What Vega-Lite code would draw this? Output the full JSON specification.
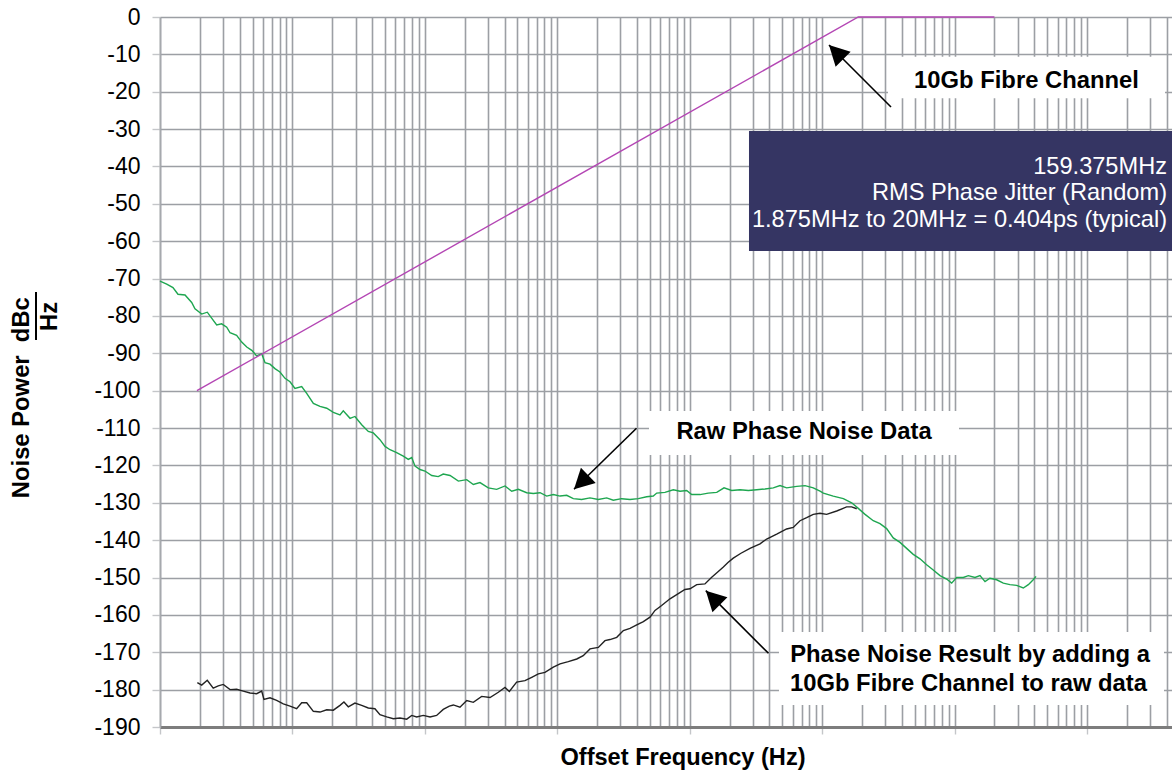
{
  "$schema": "https://vega.github.io/schema/vega-lite/v6.json",
  "width": 1012,
  "height": 710,
  "autosize": "none",
  "padding": {"left": 160, "top": 17, "right": 0, "bottom": 44},
  "background": "#ffffff",
  "config": {
    "view": {"stroke": null},
    "font": "Liberation Sans",
    "axis": {"labelFont": "Liberation Sans", "titleFont": "Liberation Sans"}
  },
  "datasets": {
    "curves": [
      {"series": "raw", "freq": 10, "dB": -70.7},
      {"series": "raw", "freq": 11.24, "dB": -71.5},
      {"series": "raw", "freq": 12.53, "dB": -72.4},
      {"series": "raw", "freq": 13.67, "dB": -74.2},
      {"series": "raw", "freq": 15.45, "dB": -74.4},
      {"series": "raw", "freq": 17.35, "dB": -76.4},
      {"series": "raw", "freq": 18.37, "dB": -78.1},
      {"series": "raw", "freq": 20.65, "dB": -79.5},
      {"series": "raw", "freq": 22.75, "dB": -79.0},
      {"series": "raw", "freq": 24.55, "dB": -80.6},
      {"series": "raw", "freq": 26.8, "dB": -82.4},
      {"series": "raw", "freq": 29.2, "dB": -82.1},
      {"series": "raw", "freq": 31.9, "dB": -83.0},
      {"series": "raw", "freq": 33.8, "dB": -84.5},
      {"series": "raw", "freq": 37.9, "dB": -85.2},
      {"series": "raw", "freq": 41.4, "dB": -87.0},
      {"series": "raw", "freq": 45.2, "dB": -88.3},
      {"series": "raw", "freq": 49.3, "dB": -89.2},
      {"series": "raw", "freq": 53.7, "dB": -90.7},
      {"series": "raw", "freq": 58.6, "dB": -90.1},
      {"series": "raw", "freq": 62.1, "dB": -92.5},
      {"series": "raw", "freq": 67.7, "dB": -92.9},
      {"series": "raw", "freq": 73.8, "dB": -94.1},
      {"series": "raw", "freq": 80.5, "dB": -95.0},
      {"series": "raw", "freq": 87.9, "dB": -96.7},
      {"series": "raw", "freq": 95.9, "dB": -97.6},
      {"series": "raw", "freq": 104.5, "dB": -99.4},
      {"series": "raw", "freq": 117.5, "dB": -98.9},
      {"series": "raw", "freq": 128.2, "dB": -100.7},
      {"series": "raw", "freq": 143.9, "dB": -103.4},
      {"series": "raw", "freq": 161.5, "dB": -104.2},
      {"series": "raw", "freq": 181.6, "dB": -104.7},
      {"series": "raw", "freq": 203.7, "dB": -105.8},
      {"series": "raw", "freq": 228.6, "dB": -106.5},
      {"series": "raw", "freq": 242.1, "dB": -105.4},
      {"series": "raw", "freq": 272.3, "dB": -107.4},
      {"series": "raw", "freq": 296.5, "dB": -106.9},
      {"series": "raw", "freq": 333.4, "dB": -109.1},
      {"series": "raw", "freq": 374.1, "dB": -110.9},
      {"series": "raw", "freq": 408.3, "dB": -111.3},
      {"series": "raw", "freq": 458.1, "dB": -113.1},
      {"series": "raw", "freq": 500, "dB": -114.9},
      {"series": "raw", "freq": 545.8, "dB": -115.8},
      {"series": "raw", "freq": 612.4, "dB": -116.6},
      {"series": "raw", "freq": 687.1, "dB": -117.5},
      {"series": "raw", "freq": 749.9, "dB": -118.4},
      {"series": "raw", "freq": 796, "dB": -117.9},
      {"series": "raw", "freq": 843, "dB": -120.2},
      {"series": "raw", "freq": 919, "dB": -121.1},
      {"series": "raw", "freq": 1002, "dB": -121.5},
      {"series": "raw", "freq": 1127, "dB": -122.7},
      {"series": "raw", "freq": 1262, "dB": -123.0},
      {"series": "raw", "freq": 1377, "dB": -122.3},
      {"series": "raw", "freq": 1549, "dB": -122.7},
      {"series": "raw", "freq": 1790, "dB": -124.2},
      {"series": "raw", "freq": 2071, "dB": -123.8},
      {"series": "raw", "freq": 2323, "dB": -125.1},
      {"series": "raw", "freq": 2608, "dB": -124.6},
      {"series": "raw", "freq": 3013, "dB": -126.0},
      {"series": "raw", "freq": 3486, "dB": -126.4},
      {"series": "raw", "freq": 4027, "dB": -125.5},
      {"series": "raw", "freq": 4529, "dB": -126.9},
      {"series": "raw", "freq": 5082, "dB": -126.4},
      {"series": "raw", "freq": 5875, "dB": -127.3},
      {"series": "raw", "freq": 6592, "dB": -127.5},
      {"series": "raw", "freq": 7413, "dB": -127.3},
      {"series": "raw", "freq": 8318, "dB": -128.2},
      {"series": "raw", "freq": 9333, "dB": -127.8},
      {"series": "raw", "freq": 10490, "dB": -128.2},
      {"series": "raw", "freq": 11780, "dB": -128.0},
      {"series": "raw", "freq": 13210, "dB": -128.9},
      {"series": "raw", "freq": 15280, "dB": -129.1},
      {"series": "raw", "freq": 17660, "dB": -128.7},
      {"series": "raw", "freq": 20420, "dB": -129.1},
      {"series": "raw", "freq": 23600, "dB": -128.7},
      {"series": "raw", "freq": 26490, "dB": -129.3},
      {"series": "raw", "freq": 30620, "dB": -128.9},
      {"series": "raw", "freq": 35400, "dB": -129.1},
      {"series": "raw", "freq": 40930, "dB": -128.9},
      {"series": "raw", "freq": 47320, "dB": -128.4},
      {"series": "raw", "freq": 53090, "dB": -128.2},
      {"series": "raw", "freq": 56360, "dB": -127.4},
      {"series": "raw", "freq": 65010, "dB": -127.2},
      {"series": "raw", "freq": 75160, "dB": -126.5},
      {"series": "raw", "freq": 84530, "dB": -126.9},
      {"series": "raw", "freq": 94850, "dB": -126.7},
      {"series": "raw", "freq": 103500, "dB": -127.8},
      {"series": "raw", "freq": 119700, "dB": -127.8},
      {"series": "raw", "freq": 138000, "dB": -127.4},
      {"series": "raw", "freq": 160000, "dB": -127.2},
      {"series": "raw", "freq": 181600, "dB": -126.0},
      {"series": "raw", "freq": 207500, "dB": -126.7},
      {"series": "raw", "freq": 239900, "dB": -126.5},
      {"series": "raw", "freq": 277300, "dB": -126.7},
      {"series": "raw", "freq": 320600, "dB": -126.5},
      {"series": "raw", "freq": 370700, "dB": -126.3},
      {"series": "raw", "freq": 427600, "dB": -126.0},
      {"series": "raw", "freq": 480800, "dB": -125.4},
      {"series": "raw", "freq": 539500, "dB": -126.0},
      {"series": "raw", "freq": 642700, "dB": -125.6},
      {"series": "raw", "freq": 743000, "dB": -125.4},
      {"series": "raw", "freq": 857000, "dB": -126.0},
      {"series": "raw", "freq": 963800, "dB": -126.9},
      {"series": "raw", "freq": 1021000, "dB": -127.4},
      {"series": "raw", "freq": 1213000, "dB": -128.2},
      {"series": "raw", "freq": 1445000, "dB": -128.9},
      {"series": "raw", "freq": 1671000, "dB": -130.0},
      {"series": "raw", "freq": 1875000, "dB": -131.5},
      {"series": "raw", "freq": 2109000, "dB": -133.1},
      {"series": "raw", "freq": 2432000, "dB": -134.8},
      {"series": "raw", "freq": 2735000, "dB": -135.6},
      {"series": "raw", "freq": 3069000, "dB": -136.9},
      {"series": "raw", "freq": 3443000, "dB": -139.4},
      {"series": "raw", "freq": 3873000, "dB": -140.6},
      {"series": "raw", "freq": 4345000, "dB": -142.2},
      {"series": "raw", "freq": 4875000, "dB": -143.8},
      {"series": "raw", "freq": 5483000, "dB": -145.0},
      {"series": "raw", "freq": 6152000, "dB": -146.6},
      {"series": "raw", "freq": 6902000, "dB": -148.0},
      {"series": "raw", "freq": 7762000, "dB": -149.5},
      {"series": "raw", "freq": 8710000, "dB": -150.4},
      {"series": "raw", "freq": 9506000, "dB": -151.5},
      {"series": "raw", "freq": 10370000, "dB": -150.0},
      {"series": "raw", "freq": 11640000, "dB": -150.0},
      {"series": "raw", "freq": 12700000, "dB": -149.5},
      {"series": "raw", "freq": 14260000, "dB": -150.0},
      {"series": "raw", "freq": 15560000, "dB": -149.5},
      {"series": "raw", "freq": 16980000, "dB": -151.1},
      {"series": "raw", "freq": 18490000, "dB": -150.2},
      {"series": "raw", "freq": 20800000, "dB": -150.6},
      {"series": "raw", "freq": 23330000, "dB": -151.5},
      {"series": "raw", "freq": 26180000, "dB": -151.9},
      {"series": "raw", "freq": 29440000, "dB": -152.1},
      {"series": "raw", "freq": 33030000, "dB": -152.8},
      {"series": "raw", "freq": 36060000, "dB": -151.9},
      {"series": "raw", "freq": 39260000, "dB": -150.6},
      {"series": "raw", "freq": 41210000, "dB": -149.7},
      {"series": "filtered", "freq": 19.14, "dB": -178.1},
      {"series": "filtered", "freq": 20.65, "dB": -178.8},
      {"series": "filtered", "freq": 22.75, "dB": -177.5},
      {"series": "filtered", "freq": 25.23, "dB": -179.6},
      {"series": "filtered", "freq": 27.54, "dB": -179.0},
      {"series": "filtered", "freq": 30.06, "dB": -178.6},
      {"series": "filtered", "freq": 33.8, "dB": -180.0},
      {"series": "filtered", "freq": 37.9, "dB": -179.9},
      {"series": "filtered", "freq": 42.56, "dB": -180.4},
      {"series": "filtered", "freq": 47.86, "dB": -180.9},
      {"series": "filtered", "freq": 53.7, "dB": -181.1},
      {"series": "filtered", "freq": 58.6, "dB": -180.4},
      {"series": "filtered", "freq": 60.95, "dB": -182.6},
      {"series": "filtered", "freq": 67.7, "dB": -182.2},
      {"series": "filtered", "freq": 76.0, "dB": -182.9},
      {"series": "filtered", "freq": 85.3, "dB": -183.8},
      {"series": "filtered", "freq": 95.9, "dB": -184.4},
      {"series": "filtered", "freq": 107.6, "dB": -185.1},
      {"series": "filtered", "freq": 117.5, "dB": -183.5},
      {"series": "filtered", "freq": 128.2, "dB": -183.5},
      {"series": "filtered", "freq": 143.9, "dB": -185.8},
      {"series": "filtered", "freq": 161.5, "dB": -186.0},
      {"series": "filtered", "freq": 181.6, "dB": -185.4},
      {"series": "filtered", "freq": 203.7, "dB": -185.5},
      {"series": "filtered", "freq": 228.6, "dB": -184.2},
      {"series": "filtered", "freq": 244.9, "dB": -183.3},
      {"series": "filtered", "freq": 264.2, "dB": -184.6},
      {"series": "filtered", "freq": 296.5, "dB": -183.6},
      {"series": "filtered", "freq": 333.4, "dB": -184.2},
      {"series": "filtered", "freq": 374.1, "dB": -184.9},
      {"series": "filtered", "freq": 419.8, "dB": -185.1},
      {"series": "filtered", "freq": 458.1, "dB": -186.7},
      {"series": "filtered", "freq": 515.2, "dB": -187.3},
      {"series": "filtered", "freq": 578.1, "dB": -187.8},
      {"series": "filtered", "freq": 648.6, "dB": -187.6},
      {"series": "filtered", "freq": 729.4, "dB": -187.9},
      {"series": "filtered", "freq": 796, "dB": -186.9},
      {"series": "filtered", "freq": 867, "dB": -187.3},
      {"series": "filtered", "freq": 973, "dB": -186.9},
      {"series": "filtered", "freq": 1094, "dB": -187.3},
      {"series": "filtered", "freq": 1227, "dB": -186.9},
      {"series": "filtered", "freq": 1377, "dB": -185.3},
      {"series": "filtered", "freq": 1531, "dB": -184.4},
      {"series": "filtered", "freq": 1641, "dB": -184.1},
      {"series": "filtered", "freq": 1841, "dB": -184.7},
      {"series": "filtered", "freq": 2071, "dB": -182.9},
      {"series": "filtered", "freq": 2323, "dB": -183.4},
      {"series": "filtered", "freq": 2685, "dB": -181.8},
      {"series": "filtered", "freq": 3105, "dB": -182.1},
      {"series": "filtered", "freq": 3589, "dB": -180.7},
      {"series": "filtered", "freq": 4027, "dB": -179.4},
      {"series": "filtered", "freq": 4345, "dB": -180.5},
      {"series": "filtered", "freq": 4932, "dB": -178.0},
      {"series": "filtered", "freq": 5702, "dB": -177.6},
      {"series": "filtered", "freq": 6412, "dB": -176.7},
      {"series": "filtered", "freq": 7194, "dB": -175.8},
      {"series": "filtered", "freq": 8072, "dB": -175.4},
      {"series": "filtered", "freq": 9333, "dB": -174.0},
      {"series": "filtered", "freq": 10490, "dB": -173.1},
      {"series": "filtered", "freq": 12110, "dB": -172.5},
      {"series": "filtered", "freq": 14030, "dB": -171.8},
      {"series": "filtered", "freq": 15700, "dB": -170.9},
      {"series": "filtered", "freq": 17660, "dB": -169.1},
      {"series": "filtered", "freq": 20420, "dB": -168.7},
      {"series": "filtered", "freq": 22910, "dB": -166.9},
      {"series": "filtered", "freq": 25000, "dB": -166.6},
      {"series": "filtered", "freq": 28120, "dB": -166.0},
      {"series": "filtered", "freq": 31550, "dB": -164.2},
      {"series": "filtered", "freq": 35400, "dB": -163.6},
      {"series": "filtered", "freq": 39810, "dB": -162.7},
      {"series": "filtered", "freq": 44670, "dB": -161.8},
      {"series": "filtered", "freq": 50120, "dB": -160.6},
      {"series": "filtered", "freq": 54700, "dB": -158.8},
      {"series": "filtered", "freq": 61380, "dB": -157.5},
      {"series": "filtered", "freq": 70960, "dB": -155.7},
      {"series": "filtered", "freq": 79800, "dB": -154.6},
      {"series": "filtered", "freq": 92040, "dB": -153.2},
      {"series": "filtered", "freq": 100500, "dB": -153.0},
      {"series": "filtered", "freq": 113000, "dB": -151.9},
      {"series": "filtered", "freq": 130300, "dB": -151.7},
      {"series": "filtered", "freq": 146600, "dB": -149.9},
      {"series": "filtered", "freq": 164400, "dB": -148.4},
      {"series": "filtered", "freq": 179500, "dB": -147.2},
      {"series": "filtered", "freq": 194500, "dB": -146.0},
      {"series": "filtered", "freq": 213300, "dB": -144.8},
      {"series": "filtered", "freq": 243800, "dB": -143.5},
      {"series": "filtered", "freq": 285100, "dB": -142.2},
      {"series": "filtered", "freq": 339600, "dB": -141.0},
      {"series": "filtered", "freq": 381100, "dB": -139.7},
      {"series": "filtered", "freq": 453900, "dB": -138.4},
      {"series": "filtered", "freq": 539500, "dB": -137.0},
      {"series": "filtered", "freq": 605300, "dB": -136.6},
      {"series": "filtered", "freq": 680800, "dB": -134.8},
      {"series": "filtered", "freq": 763800, "dB": -134.0},
      {"series": "filtered", "freq": 857000, "dB": -133.1},
      {"series": "filtered", "freq": 963800, "dB": -132.8},
      {"series": "filtered", "freq": 1081000, "dB": -133.1},
      {"series": "filtered", "freq": 1288000, "dB": -132.2},
      {"series": "filtered", "freq": 1531000, "dB": -131.1},
      {"series": "filtered", "freq": 1671000, "dB": -131.1},
      {"series": "filtered", "freq": 1824000, "dB": -131.6},
      {"series": "mask", "freq": 19, "dB": -100},
      {"series": "mask", "freq": 1875000, "dB": 0},
      {"series": "mask", "freq": 20000000, "dB": 0}
    ],
    "callouts": [
      {"name": "mask", "freq": 3143000, "freq2": 388100000, "dB": -10.65, "dB2": -21.72},
      {"name": "raw", "freq": 49260, "freq2": 10800000, "dB": -105.43, "dB2": -117.21},
      {"name": "result", "freq": 472100, "freq2": 381400000, "dB": -164.57, "dB2": -184.1}
    ],
    "jitter": [
      {"freq": 280300, "freq2": 438400000, "dB": -30.51, "dB2": -62.62}
    ],
    "arrows": [
      {"target": "mask", "freq": 1126400, "dB": -7.49, "freq2": 3311000, "dB2": -24.08},
      {"target": "raw", "freq": 13374, "dB": -126.38, "freq2": 39640, "dB2": -110.06},
      {"target": "result", "freq": 132260, "dB": -153.52, "freq2": 393500, "dB2": -170.27}
    ],
    "notes": [
      {"label": "10Gb Fibre Channel", "freq": 34920000, "dB": -19.08},
      {"label": "Raw Phase Noise Data", "freq": 729500, "dB": -112.93},
      {"label": "Phase Noise Result by adding a", "freq": 13080000, "dB": -172.7},
      {"label": "10Gb Fibre Channel to raw data", "freq": 12740000, "dB": -180.36}
    ],
    "jitterText": [
      {"label": "159.375MHz", "freq": 401800000, "dB": -42.01},
      {"label": "RMS Phase Jitter (Random)", "freq": 401800000, "dB": -49.1},
      {"label": "1.875MHz to 20MHz = 0.404ps (typical)", "freq": 401800000, "dB": -56.19}
    ],
    "unitBar": [
      {"freq": 1.158, "dB": -73.59, "dB2": -86.43}
    ],
    "unitText": [
      {"label": "Hz", "freq": 1.654, "dB": -80.14}
    ]
  },
  "encoding": {
    "x": {
      "field": "freq",
      "type": "quantitative",
      "title": "Offset Frequency (Hz)",
      "scale": {"type": "log", "domain": [10, 438400000], "nice": false, "zero": false},
      "axis": {
        "values": [10, 20, 30, 40, 50, 60, 70, 80, 90, 100, 200, 300, 400, 500, 600, 700, 800, 900, 1000, 2000, 3000, 4000, 5000, 6000, 7000, 8000, 9000, 10000, 20000, 30000, 40000, 50000, 60000, 70000, 80000, 90000, 100000, 200000, 300000, 400000, 500000, 600000, 700000, 800000, 900000, 1000000, 2000000, 3000000, 4000000, 5000000, 6000000, 7000000, 8000000, 9000000, 10000000, 20000000, 30000000, 40000000, 50000000, 60000000, 70000000, 80000000, 90000000, 100000000, 200000000, 300000000, 400000000],
        "labels": false,
        "grid": true,
        "gridColor": "#9c9fa4",
        "gridWidth": 1.6,
        "ticks": true,
        "tickSize": 7,
        "tickWidth": 1.4,
        "tickColor": "#c4c6c9",
        "tickOpacity": {"condition": {"test": "indexof([10,100,1000,10000,100000,1000000,10000000,100000000], datum.value) >= 0", "value": 1}, "value": 0},
        "domainColor": "#7d7d7d",
        "domainWidth": 3,
        "titleFontSize": 23.6,
        "titleFontWeight": "bold",
        "titleColor": "#000000",
        "titleX": 522.5,
        "titleY": 37.5,
        "titleAlign": "center",
        "titleBaseline": "alphabetic"
      }
    },
    "y": {
      "field": "dB",
      "type": "quantitative",
      "title": "Noise Power\u00a0\u00a0dBc",
      "scale": {"domain": [-190, 0], "nice": false, "zero": false},
      "axis": {
        "values": [-190, -180, -170, -160, -150, -140, -130, -120, -110, -100, -90, -80, -70, -60, -50, -40, -30, -20, -10, 0],
        "labelExpr": "'' + datum.value",
        "grid": true,
        "gridColor": "#9c9fa4",
        "gridWidth": 1.6,
        "tickSize": 8,
        "tickWidth": 1.4,
        "tickColor": "#c4c6c9",
        "labelFontSize": 23,
        "labelColor": "#000000",
        "labelPadding": 12,
        "domainColor": "#a6a9ad",
        "domainWidth": 1.6,
        "titleFontSize": 23.8,
        "titleFontWeight": "bold",
        "titleColor": "#000000",
        "titleAngle": 270,
        "titleX": -131.7,
        "titleY": 380.2,
        "titleAlign": "center",
        "titleBaseline": "alphabetic"
      }
    }
  },
  "layer": [
    {
      "data": {"name": "callouts"},
      "mark": {"type": "rect", "fill": "#ffffff"},
      "encoding": {"x2": {"field": "freq2"}, "y2": {"field": "dB2"}}
    },
    {
      "data": {"name": "jitter"},
      "mark": {"type": "rect", "fill": "#353563"},
      "encoding": {"x2": {"field": "freq2"}, "y2": {"field": "dB2"}}
    },
    {
      "data": {"name": "curves"},
      "mark": {"type": "line", "strokeWidth": 1.4},
      "encoding": {
        "color": {
          "field": "series",
          "type": "nominal",
          "scale": {"domain": ["raw", "filtered", "mask"], "range": ["#1ea650", "#222222", "#b446b4"]},
          "legend": null
        }
      }
    },
    {
      "data": {"name": "arrows"},
      "mark": {"type": "rule", "color": "#000000", "strokeWidth": 1.6},
      "encoding": {"x2": {"field": "freq2"}, "y2": {"field": "dB2"}}
    },
    {
      "data": {"name": "arrows"},
      "transform": [{"filter": "datum.target != 'raw'"}],
      "mark": {"type": "point", "shape": "M0,0L0.53,1L-0.53,1Z", "size": 1600, "angle": 315, "filled": true, "color": "#000000", "opacity": 1}
    },
    {
      "data": {"name": "arrows"},
      "transform": [{"filter": "datum.target == 'raw'"}],
      "mark": {"type": "point", "shape": "M0,0L0.53,1L-0.53,1Z", "size": 1600, "angle": 225.7, "filled": true, "color": "#000000", "opacity": 1}
    },
    {
      "data": {"name": "notes"},
      "mark": {"type": "text", "font": "Liberation Sans", "fontSize": 23.8, "fontWeight": "bold", "color": "#000000", "align": "center", "baseline": "alphabetic"},
      "encoding": {"text": {"field": "label"}}
    },
    {
      "data": {"name": "jitterText"},
      "mark": {"type": "text", "font": "Liberation Sans", "fontSize": 23.6, "color": "#ffffff", "align": "right", "baseline": "alphabetic"},
      "encoding": {"text": {"field": "label"}}
    },
    {
      "data": {"name": "unitBar"},
      "mark": {"type": "rule", "color": "#000000", "strokeWidth": 2},
      "encoding": {"y2": {"field": "dB2"}}
    },
    {
      "data": {"name": "unitText"},
      "mark": {"type": "text", "font": "Liberation Sans", "fontSize": 23.8, "fontWeight": "bold", "color": "#000000", "angle": 270, "align": "center", "baseline": "alphabetic"},
      "encoding": {"text": {"field": "label"}}
    }
  ]
}
